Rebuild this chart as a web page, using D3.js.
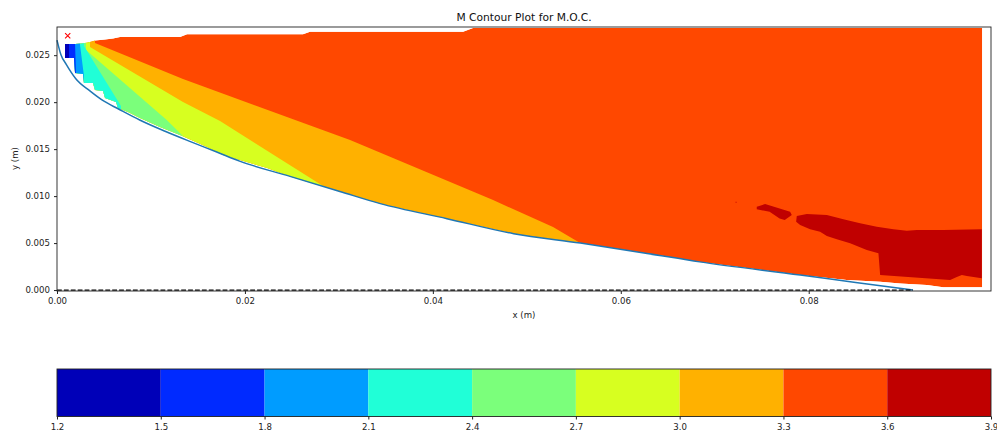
<!DOCTYPE html>
<html>
<head>
<meta charset="utf-8">
<script src="https://cdn.jsdelivr.net/npm/d3@7"></script>
<style>
  body { margin: 0; background: #fff; }
  text { font-family: "DejaVu Sans", sans-serif; }
</style>
</head>
<body>
<svg id="chart" width="997" height="432"></svg>
<script>
// Mach number contour levels and their fill colours (jet colormap)
const levels = [1.2, 1.5, 1.8, 2.1, 2.4, 2.7, 3.0, 3.3, 3.6, 3.9];
const bandColors = ["#0000b8", "#002aff", "#009cff", "#20ffd7", "#7bff7b",
                    "#d7ff20", "#ffb100", "#ff4800", "#c00000"];
const xTicks = [0, 0.02, 0.04, 0.06, 0.08];
const yTicks = [0, 0.005, 0.010, 0.015, 0.020, 0.025];

// Nozzle wall contour (x, y) in metres
const wall = [
  [0.0000, 0.0266], [0.0004, 0.0251], [0.0010, 0.0240], [0.0020, 0.0225],
  [0.0035, 0.0212], [0.0050, 0.0201], [0.0065, 0.0193], [0.0088, 0.0181],
  [0.0115, 0.0169], [0.0142, 0.0158], [0.0170, 0.0147], [0.0195, 0.0137],
  [0.0248, 0.0121], [0.0301, 0.0105], [0.0344, 0.0092], [0.0415, 0.0076],
  [0.0486, 0.0060], [0.0557, 0.0050], [0.0628, 0.0039], [0.0684, 0.0030],
  [0.0791, 0.0016], [0.0850, 0.0008], [0.0911, 0.0000]
];

// Upper edge of the characteristic mesh (left to right)
const meshTop = [
  [0.00085, 0.02618], [0.00192, 0.02618], [0.00266, 0.02624], [0.00330, 0.02634],
  [0.00404, 0.02656], [0.00511, 0.02666], [0.00596, 0.02677], [0.00671, 0.02693],
  [0.01309, 0.02693], [0.01384, 0.02722], [0.02618, 0.02722], [0.02693, 0.02749],
  [0.04322, 0.02749], [0.04428, 0.02789], [0.09846, 0.02789], [0.09846, 0.00029]
];
// Lower edge near the outlet (right to left)
const meshTail = [
  [0.09431, 0.00029], [0.09257, 0.00053], [0.08973, 0.00071],
  [0.08760, 0.00088], [0.08405, 0.00106]
];
// Stepped lower edge of the mesh near the throat (left to right)
const meshSteps = [
  [0.00085, 0.02469], [0.00181, 0.02469], [0.00192, 0.02310], [0.00277, 0.02299],
  [0.00287, 0.02203], [0.00383, 0.02203], [0.00404, 0.02129], [0.00490, 0.02118],
  [0.00511, 0.02044], [0.00628, 0.02001], [0.00649, 0.01937], [0.00756, 0.01895],
  [0.00883, 0.01831], [0.01096, 0.01735], [0.01309, 0.01650], [0.01597, 0.01522],
  [0.01767, 0.01437], [0.02235, 0.01299]
];

// Iso-Mach lines, listed from the upper edge down to the wall
const isoLines = {
  1.5: [[0.00128, 0.02618], [0.00128, 0.02448]],
  1.8: [[0.00192, 0.02618], [0.00202, 0.02299]],
  2.1: [[0.00245, 0.02608], [0.00287, 0.02278]],
  2.4: [[0.00287, 0.02597], [0.00681, 0.01958]],
  2.7: [[0.00309, 0.02555], [0.01168, 0.01809], [0.01373, 0.01607]],
  3.0: [[0.00351, 0.02586], [0.01341, 0.02001], [0.01735, 0.01799], [0.02831, 0.01107]],
  3.3: [[0.00404, 0.02629], [0.01341, 0.02246], [0.03119, 0.01597], [0.04641, 0.00958],
        [0.05279, 0.00671], [0.05567, 0.00500]]
};

// Regions above M = 3.6
const highMach = [
  [[0.07447, 0.00887], [0.07536, 0.00915], [0.07802, 0.00833], [0.07820, 0.00798],
   [0.07745, 0.00745], [0.07690, 0.00763], [0.07584, 0.00833], [0.07447, 0.00859]],
  [[0.07873, 0.00788], [0.07980, 0.00809], [0.08193, 0.00798], [0.08369, 0.00753],
   [0.08547, 0.00710], [0.08725, 0.00674], [0.08902, 0.00646], [0.09044, 0.00631],
   [0.09151, 0.00639], [0.09431, 0.00639], [0.09842, 0.00646], [0.09842, 0.00125],
   [0.09683, 0.00149], [0.09630, 0.00160], [0.09576, 0.00138], [0.09505, 0.00106],
   [0.08760, 0.00160], [0.08742, 0.00391], [0.08618, 0.00426], [0.08441, 0.00497],
   [0.08299, 0.00540], [0.08193, 0.00575], [0.08121, 0.00621], [0.08015, 0.00646],
   [0.07909, 0.00692], [0.07866, 0.00727]],
  [[0.07222, 0.00940], [0.07232, 0.00940], [0.07232, 0.00930], [0.07222, 0.00930]]
];

const throatMarker = [0.00114, 0.02707];

const svg = d3.select("#chart");
const x = d3.scaleLinear().domain([0, 0.0994]).range([57, 991]);
const y = d3.scaleLinear().domain([-0.0001, 0.028]).range([291, 27]);
const line = d3.line().x(d => x(d[0])).y(d => y(d[1]));

// Flow domain outline: upper edge, outlet, wall, steps near the throat
const wallMid = wall.filter(p => p[0] >= 0.0248 && p[0] <= 0.0791).reverse();
const domain = [...meshTop, ...meshTail, ...wallMid, ...meshSteps.slice().reverse()];

svg.append("clipPath").attr("id", "flow")
  .append("path").attr("d", line(domain) + "Z");

const field = svg.append("g").attr("clip-path", "url(#flow)");
field.append("path").attr("d", line(domain) + "Z").attr("fill", bandColors[7]);

// Fill everything below each iso-Mach line, from the highest level down
const wedge = pts => {
  const t = pts[0], b = pts[pts.length - 1];
  return [[t[0], 0.03], ...pts, [b[0], -0.01], [-0.01, -0.01], [-0.01, 0.03]];
};
for (let i = 7; i >= 1; i--) {
  field.append("path")
    .attr("d", line(wedge(isoLines[levels[i]])) + "Z")
    .attr("fill", bandColors[i - 1]);
}
highMach.forEach(poly => {
  field.append("path").attr("d", line(poly) + "Z").attr("fill", bandColors[8]);
});

// Wall and centreline
svg.append("path")
  .attr("d", d3.line().x(d => x(d[0])).y(d => y(d[1])).curve(d3.curveMonotoneX)(wall))
  .attr("fill", "none").attr("stroke", "#1f77b4").attr("stroke-width", 1.5);
svg.append("line")
  .attr("x1", x(0)).attr("x2", x(wall[wall.length - 1][0]))
  .attr("y1", y(0)).attr("y2", y(0))
  .attr("stroke", "#000").attr("stroke-width", 1.3).attr("stroke-dasharray", "4.8,2.1");

// Throat marker
const mx = x(throatMarker[0]), my = y(throatMarker[1]), ms = 2.6;
svg.append("path")
  .attr("d", `M${mx - ms},${my - ms}L${mx + ms},${my + ms}M${mx - ms},${my + ms}L${mx + ms},${my - ms}`)
  .attr("stroke", "#ff0000").attr("stroke-width", 1.1);

// Axes
const fs = "8.6px";
const gx = svg.append("g").attr("transform", "translate(0,291)")
  .call(d3.axisBottom(x).tickValues(xTicks).tickFormat(d3.format(".2f"))
    .tickSize(3).tickPadding(4).tickSizeOuter(0));
const gy = svg.append("g").attr("transform", "translate(57,0)")
  .call(d3.axisLeft(y).tickValues(yTicks).tickFormat(d3.format(".3f"))
    .tickSize(3).tickPadding(4).tickSizeOuter(0));
[gx, gy].forEach(g => {
  g.select(".domain").remove();
  g.selectAll("text").style("font-size", fs).attr("fill", "#222");
  g.selectAll("line").attr("stroke", "#222");
});
svg.append("rect").attr("x", 57).attr("y", 27).attr("width", 934).attr("height", 264)
  .attr("fill", "none").attr("stroke", "#222").attr("stroke-width", 0.9);

svg.append("text").attr("x", 524).attr("y", 20.5).attr("text-anchor", "middle")
  .style("font-size", "10.7px").attr("fill", "#111").text("M Contour Plot for M.O.C.");
svg.append("text").attr("x", 524).attr("y", 317.5).attr("text-anchor", "middle")
  .style("font-size", fs).attr("fill", "#222").text("x (m)");
svg.append("text").attr("transform", "translate(18,158.5) rotate(-90)")
  .attr("text-anchor", "middle").style("font-size", fs).attr("fill", "#222").text("y (m)");

// Colour bar
const cx = d3.scaleLinear().domain([levels[0], levels[levels.length - 1]]).range([57, 991]);
const cb = svg.append("g");
cb.selectAll("rect.band").data(d3.range(levels.length - 1)).join("rect")
  .attr("class", "band")
  .attr("x", i => cx(levels[i])).attr("width", i => cx(levels[i + 1]) - cx(levels[i]))
  .attr("y", 369).attr("height", 47.5).attr("fill", i => bandColors[i]);
cb.append("rect").attr("x", 57).attr("y", 369).attr("width", 934).attr("height", 47.5)
  .attr("fill", "none").attr("stroke", "#222").attr("stroke-width", 0.9);
const gc = svg.append("g").attr("transform", "translate(0,416.5)")
  .call(d3.axisBottom(cx).tickValues(levels).tickFormat(d3.format(".1f"))
    .tickSize(3).tickPadding(4).tickSizeOuter(0));
gc.select(".domain").remove();
gc.selectAll("text").style("font-size", fs).attr("fill", "#222");
gc.selectAll("line").attr("stroke", "#222");
</script>
</body>
</html>
